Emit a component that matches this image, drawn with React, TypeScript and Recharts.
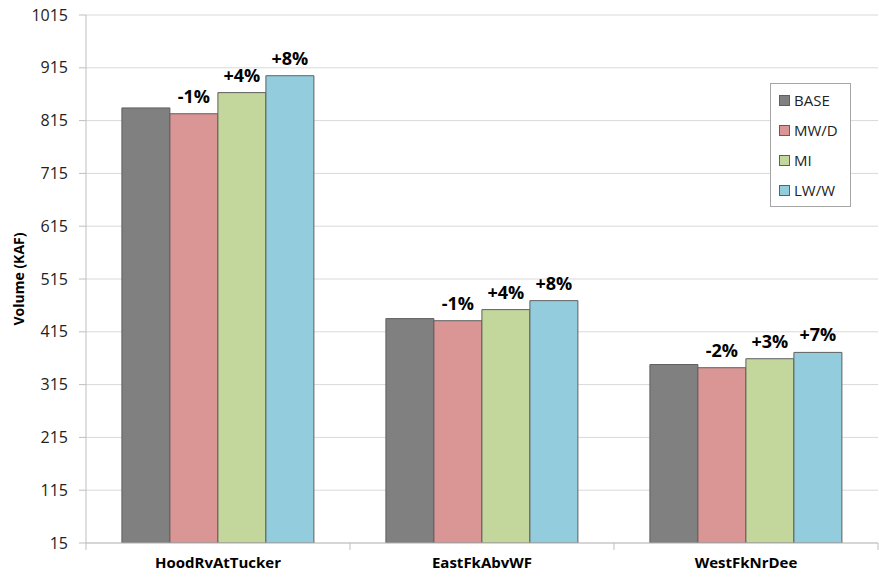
import { BarChart, Bar, XAxis, YAxis, CartesianGrid, LabelList, Label } from 'recharts';

const sites = ['HoodRvAtTucker', 'EastFkAbvWF', 'WestFkNrDee'];
const base = [839, 440, 353];
const mwd = [828, 436, 347];
const mi = [868, 457, 364];
const lww = [900, 474, 376];
const mwdLabels = ['-1%', '-1%', '-2%'];
const miLabels = ['+4%', '+4%', '+3%'];
const lwwLabels = ['+8%', '+8%', '+7%'];
const yTicks = [15, 115, 215, 315, 415, 515, 615, 715, 815, 915, 1015];

const series = [
  { key: 'base', name: 'BASE', color: '#808080' },
  { key: 'mwd', name: 'MW/D', color: '#d99694' },
  { key: 'mi', name: 'MI', color: '#c3d69b' },
  { key: 'lww', name: 'LW/W', color: '#93cddd' },
];

const data = sites.map((site, i) => ({
  site,
  base: base[i],
  mwd: mwd[i],
  mi: mi[i],
  lww: lww[i],
  mwdLabel: mwdLabels[i],
  miLabel: miLabels[i],
  lwwLabel: lwwLabels[i],
}));

const FONT = '"Open Sans", "Noto Sans", sans-serif';
const STROKE = '#5f5f5f';
const AXIS = '#bfbfbf';
const labelStyle = { fontFamily: FONT, fontSize: 18, fontWeight: 700, fill: '#000' };

// legend box drawn over the plot area, top right
function LegendBox() {
  return (
    <div
      style={{
        position: 'absolute',
        left: 770,
        top: 83,
        border: '1px solid #a6a6a6',
        background: '#fff',
        width: 79,
        padding: '1px 0 1px 0',
        fontFamily: FONT,
        fontSize: 15,
        color: '#222',
      }}
    >
      {series.map((s) => (
        <div key={s.key} style={{ display: 'flex', alignItems: 'center', height: 30, paddingLeft: 8 }}>
          <span
            style={{
              display: 'inline-block',
              width: 9,
              height: 9,
              background: s.color,
              border: `1px solid ${STROKE}`,
              marginRight: 4,
            }}
          />
          {s.name}
        </div>
      ))}
    </div>
  );
}

// category label plus the short marks on the band edges
function SiteTick(props: any) {
  const { x, y, payload } = props;
  const half = payload?.offset ?? 0;
  return (
    <g>
      {payload.index === 0 && <line x1={x - half} x2={x - half} y1={y} y2={y + 7} stroke={AXIS} />}
      <line x1={x + half} x2={x + half} y1={y} y2={y + 7} stroke={AXIS} />
      <text
        x={x}
        y={y + 14}
        dy="0.71em"
        textAnchor="middle"
        style={{ fontFamily: FONT, fontSize: 15, fontWeight: 700, fill: '#000' }}
      >
        {payload.value}
      </text>
    </g>
  );
}

export default function App() {
  return (
    <div style={{ position: 'absolute', left: 0, top: 0, width: 879, height: 582, background: '#fff' }}>
      <BarChart
        width={879}
        height={582}
        data={data}
        margin={{ top: 15, right: 1, bottom: 0, left: 16 }}
        barGap={0}
        barCategoryGap="13.6%"
      >
        <CartesianGrid horizontal vertical={false} stroke="#d9d9d9" />
        <XAxis
          dataKey="site"
          height={39}
          tickLine={false}
          tickSize={0}
          tickMargin={0}
          axisLine={{ stroke: AXIS }}
          tick={<SiteTick />}
        />
        <YAxis
          domain={[15, 1015]}
          ticks={yTicks}
          allowDataOverflow
          width={70}
          tickSize={7}
          tickMargin={11}
          tickLine={{ stroke: AXIS }}
          axisLine={{ stroke: AXIS }}
          tick={{ fontFamily: FONT, fontSize: 16, fill: '#222' }}
        >
          <Label
            content={() => (
              <text
                x={18}
                y={279}
                transform="rotate(-90 18 279)"
                textAnchor="middle"
                dominantBaseline="central"
                style={{ fontFamily: FONT, fontSize: 14, fontWeight: 700, fill: '#000' }}
              >
                Volume (KAF)
              </text>
            )}
          />
        </YAxis>
        <Bar dataKey="base" name="BASE" fill="#808080" stroke={STROKE} isAnimationActive={false} />
        <Bar dataKey="mwd" name="MW/D" fill="#d99694" stroke={STROKE} isAnimationActive={false}>
          <LabelList dataKey="mwdLabel" position="top" offset={11} style={labelStyle} />
        </Bar>
        <Bar dataKey="mi" name="MI" fill="#c3d69b" stroke={STROKE} isAnimationActive={false}>
          <LabelList dataKey="miLabel" position="top" offset={11} style={labelStyle} />
        </Bar>
        <Bar dataKey="lww" name="LW/W" fill="#93cddd" stroke={STROKE} isAnimationActive={false}>
          <LabelList dataKey="lwwLabel" position="top" offset={11} style={labelStyle} />
        </Bar>
      </BarChart>
      <LegendBox />
    </div>
  );
}
